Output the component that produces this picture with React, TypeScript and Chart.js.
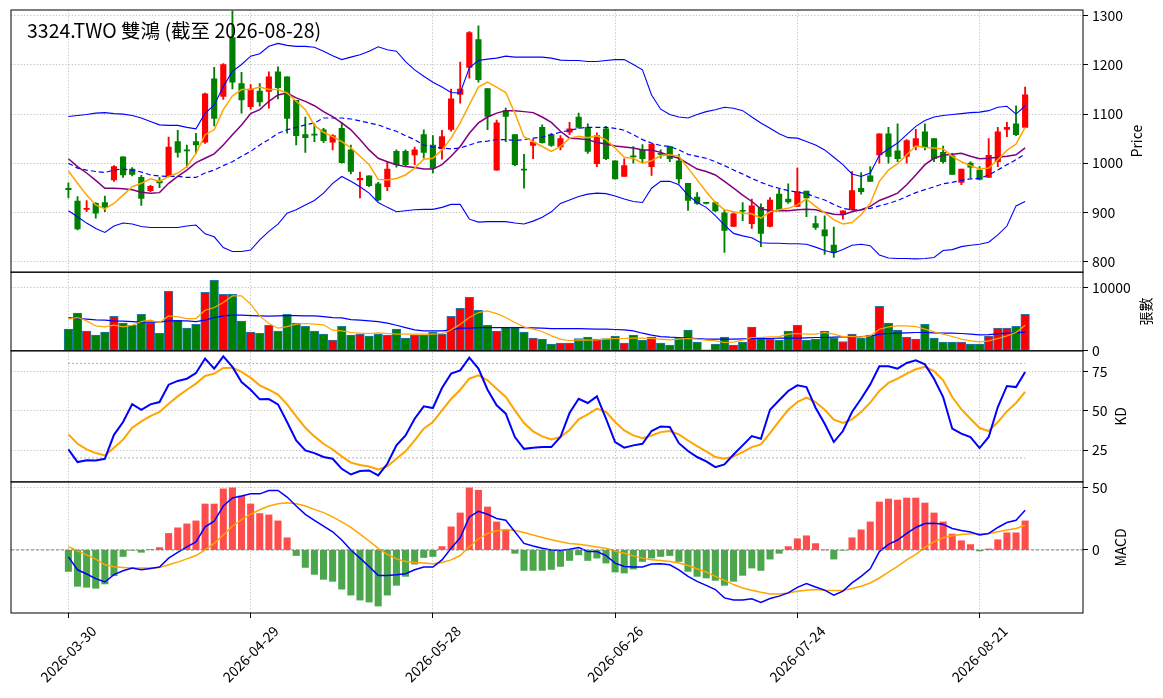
import { useEffect, useRef } from "react"
import Chart from "chart.js/auto"

const TITLE = "3324.TWO 雙鴻 (截至 2026-08-28)"
const DATE_TICKS = [0, 20, 40, 60, 80, 100]
const DATE_LABELS = ["2026-03-30", "2026-04-29", "2026-05-28", "2026-06-26", "2026-07-24", "2026-08-21"]

const PRICE_TICKS = [800, 900, 1000, 1100, 1200, 1300]
const VOL_TICKS = [0, 10000]
const KD_TICKS = [25, 50, 75]
const MACD_TICKS = [0, 50]
const KD_LEVELS = [80, 20]

const OPEN = [949, 923, 906, 918, 920, 966, 1013, 988, 971, 944, 963, 973, 1044, 1027, 1044, 1043, 1172, 1136, 1256, 1162, 1115, 1147, 1146, 1186, 1176, 1128, 1058, 1058, 1068, 1043, 1071, 1027, 966, 974, 958, 952, 1024, 1024, 1017, 1058, 1037, 1029, 1069, 1140, 1195, 1252, 1152, 986, 1107, 1058, 987, 1036, 1073, 1058, 1033, 1063, 1094, 1073, 999, 1070, 1005, 973, 1015, 1026, 993, 1020, 1034, 1005, 959, 931, 919, 920, 899, 871, 904, 877, 910, 871, 937, 927, 912, 943, 877, 864, 833, 895, 905, 949, 974, 1017, 1060, 1025, 1014, 1034, 1064, 1050, 1022, 1015, 961, 1000, 986, 971, 1003, 1069, 1080, 1073]
const HIGH = [960, 932, 924, 920, 933, 995, 1013, 991, 975, 955, 971, 1053, 1067, 1037, 1061, 1143, 1195, 1203, 1310, 1185, 1160, 1162, 1186, 1196, 1176, 1128, 1094, 1080, 1071, 1058, 1082, 1037, 982, 974, 961, 1002, 1027, 1027, 1033, 1068, 1056, 1067, 1151, 1206, 1268, 1280, 1152, 1088, 1112, 1058, 1018, 1049, 1078, 1061, 1056, 1083, 1102, 1080, 1062, 1075, 1005, 1009, 1034, 1038, 1039, 1027, 1035, 1018, 959, 940, 920, 922, 905, 899, 920, 927, 917, 930, 947, 958, 990, 943, 892, 893, 870, 903, 983, 981, 993, 1060, 1073, 1080, 1048, 1069, 1080, 1050, 1035, 1020, 988, 1003, 993, 1050, 1073, 1083, 1117, 1155]
const LOW = [929, 864, 901, 888, 901, 963, 971, 974, 914, 942, 950, 972, 1012, 992, 1020, 1040, 1076, 1130, 1151, 1102, 1110, 1116, 1112, 1131, 1061, 1037, 1022, 1044, 1042, 1027, 1000, 978, 929, 952, 923, 944, 992, 995, 997, 1010, 980, 1008, 1065, 1122, 1173, 1165, 1068, 986, 1044, 995, 949, 1009, 1041, 1034, 1027, 1058, 1071, 1020, 993, 1007, 968, 973, 1000, 1000, 975, 1010, 1003, 959, 904, 916, 917, 901, 818, 871, 883, 867, 830, 870, 905, 918, 912, 891, 865, 814, 808, 886, 905, 937, 963, 1000, 1000, 1003, 1000, 1027, 1027, 1003, 1000, 977, 956, 970, 966, 971, 993, 1054, 1056, 1073]
const CLOSE = [946, 866, 908, 898, 910, 993, 976, 977, 928, 953, 960, 1033, 1022, 1025, 1037, 1141, 1091, 1201, 1165, 1129, 1151, 1125, 1176, 1154, 1091, 1056, 1052, 1057, 1046, 1056, 1001, 983, 969, 954, 925, 988, 997, 997, 1027, 1022, 990, 1054, 1131, 1151, 1266, 1170, 1095, 1082, 1095, 997, 986, 1043, 1042, 1036, 1050, 1070, 1073, 1024, 1056, 1009, 968, 995, 1013, 1009, 1039, 1018, 1009, 968, 924, 918, 918, 903, 863, 897, 902, 913, 857, 925, 905, 921, 942, 929, 869, 852, 818, 903, 944, 942, 963, 1060, 1014, 1009, 1046, 1050, 1033, 1009, 1003, 977, 988, 992, 967, 1016, 1064, 1073, 1058, 1139]

const MA5 = [984, 959, 935, 915, 907, 918, 935, 952, 959, 968, 963, 973, 980, 993, 1020, 1058, 1068, 1109, 1137, 1150, 1150, 1155, 1150, 1150, 1143, 1126, 1109, 1077, 1063, 1054, 1044, 1031, 1014, 997, 967, 966, 969, 976, 990, 1008, 1010, 1027, 1051, 1082, 1119, 1155, 1165, 1155, 1144, 1102, 1054, 1044, 1034, 1024, 1034, 1051, 1055, 1052, 1056, 1048, 1031, 1012, 1010, 1000, 1005, 1015, 1017, 1014, 990, 966, 942, 920, 905, 901, 898, 897, 888, 901, 905, 908, 915, 927, 912, 899, 885, 876, 879, 895, 918, 963, 986, 999, 1017, 1035, 1032, 1031, 1029, 1014, 1003, 995, 988, 990, 1007, 1026, 1039, 1073]
const MA10 = [1009, 993, 980, 965, 949, 949, 948, 946, 941, 939, 940, 959, 973, 986, 1001, 1010, 1019, 1037, 1058, 1078, 1101, 1109, 1126, 1139, 1143, 1133, 1126, 1117, 1105, 1095, 1082, 1068, 1048, 1027, 1010, 1003, 997, 993, 991, 988, 988, 997, 1014, 1034, 1061, 1082, 1094, 1102, 1107, 1107, 1105, 1103, 1094, 1083, 1065, 1051, 1050, 1048, 1042, 1039, 1035, 1033, 1031, 1027, 1027, 1022, 1015, 1010, 999, 988, 983, 976, 963, 949, 935, 922, 907, 903, 903, 903, 905, 906, 905, 900, 896, 895, 901, 905, 912, 924, 931, 939, 956, 976, 997, 1010, 1016, 1018, 1020, 1014, 1009, 1010, 1012, 1014, 1017, 1031]
const BB_MID = [1000, 990, 986, 983, 981, 986, 988, 986, 982, 976, 974, 973, 973, 971, 971, 980, 986, 995, 1003, 1014, 1024, 1037, 1048, 1061, 1068, 1073, 1078, 1082, 1092, 1092, 1092, 1090, 1086, 1082, 1078, 1071, 1065, 1056, 1048, 1037, 1033, 1031, 1029, 1031, 1037, 1043, 1045, 1048, 1048, 1046, 1048, 1051, 1053, 1058, 1063, 1067, 1071, 1073, 1073, 1073, 1071, 1067, 1058, 1048, 1041, 1036, 1034, 1027, 1018, 1014, 1010, 1003, 995, 986, 978, 969, 961, 954, 949, 944, 941, 938, 931, 925, 916, 908, 905, 905, 908, 913, 918, 924, 932, 940, 946, 952, 958, 961, 965, 968, 969, 976, 986, 997, 1007, 1019]
const BB_UP = [1095, 1097, 1099, 1102, 1103, 1101, 1100, 1097, 1092, 1085, 1078, 1077, 1077, 1073, 1070, 1102, 1118, 1156, 1187, 1201, 1218, 1223, 1238, 1244, 1240, 1238, 1238, 1236, 1228, 1219, 1211, 1216, 1221, 1228, 1237, 1231, 1228, 1207, 1190, 1177, 1165, 1155, 1144, 1143, 1194, 1209, 1212, 1214, 1218, 1216, 1216, 1216, 1216, 1214, 1210, 1209, 1209, 1207, 1207, 1209, 1211, 1211, 1201, 1190, 1139, 1110, 1099, 1094, 1092, 1099, 1105, 1109, 1114, 1112, 1107, 1094, 1082, 1071, 1060, 1052, 1051, 1044, 1037, 1027, 1012, 997, 978, 973, 980, 1016, 1029, 1041, 1058, 1075, 1087, 1094, 1097, 1099, 1101, 1103, 1104, 1107, 1114, 1116, 1100, 1117]
const BB_LOW = [903, 891, 878, 867, 859, 872, 878, 876, 871, 869, 869, 869, 869, 872, 874, 856, 850, 828, 820, 820, 823, 844, 861, 876, 898, 905, 915, 924, 939, 959, 973, 963, 952, 939, 920, 910, 901, 903, 905, 906, 906, 910, 916, 916, 886, 880, 881, 881, 881, 878, 876, 882, 890, 901, 918, 925, 932, 937, 939, 938, 933, 927, 922, 920, 949, 963, 963, 956, 935, 920, 910, 893, 874, 857, 852, 848, 838, 837, 837, 836, 836, 835, 829, 822, 817, 824, 833, 835, 832, 813, 807, 806, 806, 805, 806, 808, 822, 824, 830, 833, 835, 839, 854, 872, 913, 922]

const VOLUME = [3440, 5980, 3120, 2490, 2960, 5500, 4390, 4070, 5820, 4500, 2800, 9470, 4870, 3600, 4230, 9310, 11210, 8990, 8990, 4710, 2960, 2800, 4070, 3120, 5820, 4390, 3910, 3120, 2650, 1690, 3910, 2490, 2650, 2330, 2650, 2490, 3440, 2010, 2490, 2490, 2960, 2650, 5500, 6770, 8520, 6450, 4070, 3120, 3760, 3760, 2960, 2010, 1850, 1060, 1220, 1220, 1960, 2170, 1850, 1960, 2330, 1220, 2490, 1690, 2170, 1220, 900, 2010, 3280, 1380, 150, 1060, 2170, 900, 1380, 3760, 2170, 1850, 1690, 3120, 4070, 1690, 1850, 3120, 2010, 1480, 2650, 2010, 2490, 7090, 4390, 3280, 2170, 1850, 4230, 2010, 1380, 1380, 1380, 1060, 1060, 2330, 3600, 3600, 3910, 5820]
const VOL_MA5 = [5030, 5290, 4760, 3970, 3810, 4070, 3810, 4070, 4650, 4870, 4500, 5550, 5400, 5130, 5130, 6450, 6880, 7670, 8730, 8730, 7410, 5550, 4340, 3600, 3860, 4230, 4340, 4230, 4130, 3280, 3170, 2910, 2800, 2750, 2860, 2750, 2650, 2650, 2650, 2650, 2650, 2750, 3330, 4230, 5290, 6080, 6350, 5920, 5290, 4500, 3810, 3440, 3070, 2380, 1850, 1600, 1750, 1690, 1750, 1850, 1960, 1960, 2010, 2010, 1960, 1850, 1750, 1850, 1960, 1850, 1690, 1590, 1320, 1380, 1690, 2120, 2120, 2220, 2270, 2650, 2750, 2650, 2650, 2910, 2650, 2270, 2270, 2220, 2380, 3440, 3810, 3970, 3970, 3860, 3440, 3020, 2650, 2270, 1850, 1590, 1430, 1590, 1960, 2380, 2910, 4070]
const VOL_MA20 = [5290, 5130, 5030, 4920, 4870, 4760, 4710, 4650, 4550, 4550, 4550, 4760, 4760, 4760, 4650, 4870, 5290, 5550, 5660, 5660, 5610, 5550, 5500, 5550, 5610, 5610, 5550, 5550, 5450, 5290, 5240, 4970, 4870, 4760, 4650, 4390, 4070, 3700, 3330, 3170, 3170, 3170, 3330, 3600, 3600, 3700, 3700, 3700, 3700, 3700, 3700, 3650, 3600, 3540, 3540, 3540, 3540, 3490, 3440, 3440, 3390, 3330, 3170, 2800, 2490, 2270, 2170, 2120, 2010, 1960, 1850, 1850, 1850, 1850, 1900, 1960, 1960, 1960, 2010, 2010, 2010, 2060, 2120, 2120, 2170, 2220, 2220, 2270, 2330, 2650, 2750, 2800, 2860, 2910, 2910, 2860, 2800, 2800, 2750, 2650, 2540, 2590, 2700, 2800, 2860, 2960]

const K = [25.4, 17.4, 18.6, 18.4, 19.5, 34.7, 42.8, 54.2, 50.6, 54.0, 55.5, 66.5, 68.9, 70.3, 73.9, 83.1, 76.7, 84.5, 77.8, 68.2, 63.3, 57.2, 57.4, 54.0, 42.8, 31.1, 24.8, 23.1, 20.6, 19.5, 13.1, 9.5, 11.7, 12.1, 8.9, 16.3, 28.0, 34.3, 44.9, 52.8, 51.7, 64.4, 73.5, 75.6, 83.7, 76.7, 63.3, 53.4, 48.1, 33.3, 25.8, 26.5, 26.9, 26.9, 33.3, 48.5, 57.6, 54.9, 59.1, 44.9, 30.1, 26.5, 28.0, 29.0, 37.1, 40.0, 39.6, 29.4, 24.4, 20.6, 17.8, 14.2, 15.9, 22.2, 28.0, 33.9, 32.2, 50.6, 56.6, 62.5, 66.1, 65.0, 51.9, 41.7, 30.1, 37.1, 49.2, 57.6, 66.7, 78.2, 78.2, 76.7, 80.3, 82.0, 79.4, 70.3, 58.7, 38.6, 35.4, 33.3, 26.3, 33.3, 52.3, 65.7, 65.0, 74.6]
const D = [35.0, 29.0, 25.4, 23.1, 21.6, 26.5, 31.6, 39.2, 43.2, 46.6, 49.2, 54.4, 59.1, 63.3, 67.2, 72.0, 73.5, 77.1, 77.3, 74.6, 70.8, 66.1, 63.3, 60.2, 54.0, 46.4, 39.2, 33.7, 29.0, 25.4, 21.0, 17.0, 15.5, 14.6, 12.7, 14.6, 19.5, 24.2, 31.1, 38.6, 42.8, 50.2, 57.4, 63.3, 70.3, 72.5, 69.3, 64.0, 58.7, 50.2, 42.2, 36.9, 33.7, 31.8, 33.3, 37.8, 44.5, 47.7, 51.3, 49.2, 42.8, 37.5, 34.3, 32.6, 34.3, 36.4, 37.1, 35.0, 31.1, 27.5, 24.2, 20.6, 19.5, 21.0, 23.7, 26.9, 28.6, 35.8, 43.4, 50.6, 55.5, 58.3, 55.5, 50.6, 44.3, 42.2, 44.5, 49.2, 55.1, 62.5, 67.6, 70.3, 73.5, 76.3, 77.8, 75.2, 69.3, 58.7, 50.8, 44.9, 39.0, 37.1, 42.8, 49.6, 54.9, 61.9]

const DIF = [-5.6, -16.0, -19.4, -23.1, -25.8, -19.9, -16.8, -14.6, -16.0, -14.9, -13.8, -6.6, -1.9, 2.4, 6.4, 18.6, 23.1, 35.4, 41.8, 43.4, 45.2, 45.2, 47.9, 47.9, 42.6, 35.4, 28.7, 23.9, 19.1, 14.6, 8.0, 0, -6.6, -13.3, -20.5, -20.5, -19.9, -19.1, -16.0, -13.8, -13.8, -8.0, 1.3, 9.8, 26.6, 31.1, 28.7, 25.3, 23.9, 14.6, 5.3, 3.2, 1.3, 0, -0.5, 0.6, 1.9, -1.3, -1.3, -4.5, -10.6, -13.3, -13.8, -13.8, -11.4, -11.2, -12.0, -16.0, -21.3, -25.3, -28.5, -31.9, -38.6, -40.4, -40.4, -39.4, -42.3, -39.1, -37.2, -34.6, -30.1, -27.1, -29.8, -32.4, -36.4, -33.2, -26.6, -21.3, -15.2, -1.3, 4.5, 8.0, 13.3, 18.1, 21.3, 21.5, 20.7, 17.3, 15.7, 14.4, 12.0, 13.3, 18.1, 22.1, 23.9, 31.9]
const DEA = [2.7, -0.8, -4.0, -7.4, -12.0, -13.6, -14.1, -14.6, -14.6, -14.6, -14.1, -12.0, -9.8, -7.2, -4.5, 0, 5.3, 12.0, 19.1, 24.5, 28.7, 32.4, 35.4, 37.2, 38.0, 37.2, 35.4, 32.7, 30.1, 26.6, 22.6, 18.1, 12.8, 7.2, 1.3, -3.5, -7.2, -9.3, -10.1, -10.6, -11.2, -10.1, -8.0, -4.5, 2.7, 8.8, 13.3, 15.4, 16.5, 15.7, 14.1, 12.0, 10.1, 8.2, 6.6, 5.2, 4.5, 3.5, 2.4, 1.3, -0.8, -2.7, -4.8, -6.6, -8.0, -8.5, -9.3, -10.6, -12.5, -15.2, -17.8, -21.3, -24.5, -27.9, -30.6, -32.4, -34.0, -35.4, -35.4, -34.6, -33.2, -32.4, -31.9, -32.4, -32.7, -32.7, -31.1, -29.3, -26.6, -22.6, -17.8, -13.3, -8.0, -3.5, 2.1, 6.6, 9.8, 11.4, 12.5, 13.0, 13.0, 13.3, 14.6, 16.0, 17.3, 19.9]
const HIST = [-17.3, -29.3, -30.1, -30.9, -27.4, -20.7, -5.3, -0.3, -1.9, 0.3, 1.9, 13.3, 17.8, 21.0, 23.4, 37.0, 37.0, 49.2, 50.0, 43.4, 37.0, 29.3, 28.2, 23.4, 9.8, -4.5, -14.1, -19.7, -23.7, -25.3, -31.6, -36.4, -40.4, -42.0, -45.2, -36.4, -28.5, -21.3, -11.4, -6.1, -5.3, 2.7, 18.6, 29.8, 50.0, 48.1, 34.6, 22.6, 16.0, -2.7, -16.5, -16.5, -16.5, -15.7, -13.3, -8.5, -4.0, -8.5, -6.6, -10.6, -17.8, -18.6, -15.4, -9.3, -6.6, -5.3, -4.5, -9.3, -17.3, -21.3, -22.6, -24.5, -28.5, -25.3, -20.5, -14.6, -16.5, -7.4, -2.7, 2.7, 9.0, 11.4, 5.1, 0, -7.4, -0.3, 9.8, 16.2, 22.6, 38.6, 41.0, 40.2, 41.8, 41.8, 37.8, 29.8, 22.6, 12.8, 7.4, 4.3, -0.8, 0.8, 8.2, 13.8, 13.8, 23.4]

const X_MIN = -6.3
const X_MAX = 111.35
const FONT = "'Noto Sans CJK TC', 'Noto Sans', sans-serif"
const GRID = "#b0b0b0"
const UP = "#ff0000"
const DOWN = "#008000"

const xy = (arr: number[]) => arr.map((y, x) => ({ x, y }))
const candleColors = OPEN.map((o, i) => (CLOSE[i] >= o ? UP : DOWN))

function line(label: string, data: number[], yAxisID: string, color: string, width: number, dash: number[] = []) {
    return {
        type: "line" as const,
        label,
        data: xy(data),
        yAxisID,
        borderColor: color,
        borderWidth: width,
        borderDash: dash,
        pointRadius: 0,
        tension: 0,
        fill: false,
        order: 1,
    }
}

function yAxis(ticks: number[], min: number, max: number, weight: number) {
    return {
        type: "linear" as const,
        position: "right" as const,
        stack: "panels",
        stackWeight: weight,
        min,
        max,
        afterBuildTicks: (s: any) => { s.ticks = ticks.map(value => ({ value })) },
        afterFit: (s: any) => {
            s.width = 80
            s.paddingTop = 0
            s.paddingBottom = 0
        },
        grid: { color: GRID, lineWidth: 0.8, tickColor: "#000", tickLength: 5, tickWidth: 1, tickBorderDash: [] },
        border: { display: false, dash: [1.2, 2] },
        ticks: { color: "#000", font: { size: 14, family: FONT }, padding: 4, callback: (v: any) => String(v) },
    }
}

const decorations = {
    id: "decorations",
    afterDatasetsDraw(chart: any) {
        const { ctx, chartArea, scales } = chart
        ctx.save()
        ctx.strokeStyle = "#000"
        ctx.lineWidth = 1
        for (const id of ["y", "yv", "yk", "ym"]) {
            const s = scales[id]
            ctx.strokeRect(chartArea.left, s.top, chartArea.right - chartArea.left, s.bottom - s.top)
        }
        ctx.fillStyle = "#000"
        ctx.font = `19.5px ${FONT}`
        ctx.textAlign = "left"
        ctx.textBaseline = "alphabetic"
        ctx.fillText(TITLE, 27, 37.5)

        ctx.font = `14px ${FONT}`
        ctx.textAlign = "center"
        ctx.textBaseline = "middle"
        const titles: [string, string, number][] = [["y", "Price", 1137], ["yv", "張數", 1146], ["yk", "KD", 1121], ["ym", "MACD", 1121]]
        for (const [id, text, x] of titles) {
            const s = scales[id]
            ctx.save()
            ctx.translate(x, (s.top + s.bottom) / 2)
            ctx.rotate(-Math.PI / 2)
            ctx.fillText(text, 0, 0)
            ctx.restore()
        }
        DATE_TICKS.forEach((v, i) => {
            ctx.save()
            ctx.translate(scales.x.getPixelForValue(v), 654)
            ctx.rotate(-Math.PI / 4)
            ctx.fillText(DATE_LABELS[i], 0, 0)
            ctx.restore()
        })
        ctx.restore()
    },
}

export default function App() {
    const canvasRef = useRef<HTMLCanvasElement>(null)
    useEffect(() => {
        const el = canvasRef.current
        if (el == null) return
        const chart = new Chart(el, {
            type: "bar",
            data: {
                datasets: [
                    line("MA5", MA5, "y", "#ffa500", 1.5),
                    line("MA10", MA10, "y", "#800080", 1.5),
                    line("BB mid", BB_MID, "y", "#0000ff", 1.2, [5, 3]),
                    line("BB up", BB_UP, "y", "#0000ff", 1.1),
                    line("BB low", BB_LOW, "y", "#0000ff", 1.1),
                    line("Vol MA5", VOL_MA5, "yv", "#ffa500", 1.2),
                    line("Vol MA20", VOL_MA20, "yv", "#0000ff", 1.2),
                    line("K", K, "yk", "#0000ff", 2),
                    line("D", D, "yk", "#ffa500", 2),
                    ...KD_LEVELS.map(level => ({
                        ...line(`level ${level}`, [], "yk", "#999999", 1, [1.5, 2.5]),
                        data: [{ x: 0, y: level }, { x: OPEN.length - 1, y: level }],
                    })),
                    {
                        ...line("zero", [], "ym", "#808080", 1, [3, 2]),
                        data: [{ x: X_MIN, y: 0 }, { x: X_MAX, y: 0 }],
                    },
                    line("DIF", DIF, "ym", "#0000ff", 1.5),
                    line("DEA", DEA, "ym", "#ffa500", 1.5),
                    {
                        label: "wick",
                        data: HIGH.map((h, x) => ({ x, y: [LOW[x], h] })),
                        yAxisID: "y",
                        backgroundColor: candleColors,
                        barThickness: 1.2,
                        grouped: false,
                        order: 6,
                    },
                    {
                        label: "body",
                        data: OPEN.map((o, x) => ({ x, y: [o, CLOSE[x]] })),
                        yAxisID: "y",
                        backgroundColor: candleColors,
                        barThickness: 5.5,
                        minBarLength: 1,
                        grouped: false,
                        order: 5,
                    },
                    {
                        label: "volume",
                        data: xy(VOLUME),
                        yAxisID: "yv",
                        backgroundColor: candleColors,
                        borderColor: "#1f77b4",
                        borderWidth: 1,
                        borderSkipped: false,
                        barThickness: 8.6,
                        grouped: false,
                        order: 5,
                    },
                    {
                        label: "hist",
                        data: xy(HIST),
                        yAxisID: "ym",
                        backgroundColor: HIST.map(v => (v >= 0 ? "rgba(255,0,0,0.7)" : "rgba(0,128,0,0.7)")),
                        barThickness: 6.4,
                        grouped: false,
                        order: 5,
                    },
                ] as any,
            },
            options: {
                responsive: false,
                animation: false,
                events: [],
                layout: { padding: { left: 11, top: 10, right: 0, bottom: 0 } },
                plugins: { legend: { display: false }, tooltip: { enabled: false } },
                scales: {
                    x: {
                        type: "linear",
                        min: X_MIN,
                        max: X_MAX,
                        offset: false,
                        afterBuildTicks: (s: any) => { s.ticks = DATE_TICKS.map(value => ({ value })) },
                        afterFit: (s: any) => {
                            s.height = 85
                            s.paddingLeft = 0
                            s.paddingRight = 0
                        },
                        grid: { offset: false, color: GRID, lineWidth: 0.8, tickColor: "#000", tickLength: 5, tickWidth: 1, tickBorderDash: [] },
                        border: { display: false, dash: [1.2, 2] },
                        ticks: { display: false },
                    },
                    y: yAxis(PRICE_TICKS, 778, 1312, 4),
                    yv: yAxis(VOL_TICKS, 0, 12500, 1.2),
                    yk: yAxis(KD_TICKS, 4.8, 88, 2),
                    ym: yAxis(MACD_TICKS, -50.8, 54.8, 2),
                } as any,
            },
            plugins: [decorations],
        })
        return () => chart.destroy()
    }, [])

    return (
        <div style={{ position: "absolute", left: 0, top: 0, width: 1163, height: 698, background: "#fff" }}>
            <canvas ref={canvasRef} width={1163} height={698} style={{ display: "block" }} />
        </div>
    )
}
